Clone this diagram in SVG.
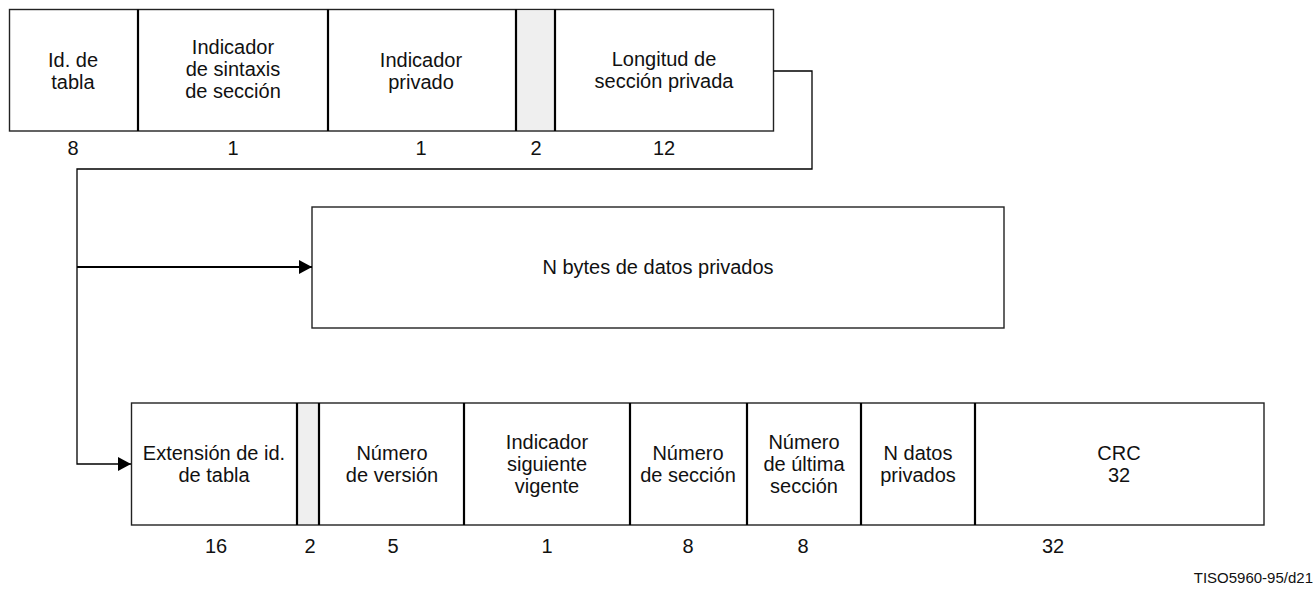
<svg xmlns="http://www.w3.org/2000/svg" width="1316" height="596" viewBox="0 0 1316 596">
<style>
.t{font-family:"Liberation Sans",Arial,sans-serif;font-size:20px;fill:#111;text-anchor:middle}
.n{font-family:"Liberation Sans",Arial,sans-serif;font-size:20px;fill:#111;text-anchor:middle}
.f{font-family:"Liberation Sans",Arial,sans-serif;font-size:15px;fill:#111;text-anchor:end}
.box{fill:#fff;stroke:#222;stroke-width:1.4}
.div{stroke:#000;stroke-width:2.2;fill:none}
.gray{fill:#efefef;stroke:none}
.c{fill:none;stroke:#000;stroke-width:1.3}
.cb{fill:none;stroke:#000;stroke-width:2.2}
</style>
<defs>
<marker id="ah" markerWidth="13" markerHeight="14" refX="13" refY="7" orient="auto" markerUnits="userSpaceOnUse">
<path d="M0,0 L13,7 L0,14 Z" fill="#000"/>
</marker>
</defs>
<rect width="1316" height="596" fill="#fff"/>

<g id="top-row">
<rect class="box" x="9.5" y="9.5" width="764" height="121.5"/>
<rect class="gray" x="516" y="10.5" width="39" height="119.5"/>
<line class="div" x1="138" y1="9.5" x2="138" y2="131"/>
<line class="div" x1="328" y1="9.5" x2="328" y2="131"/>
<line class="div" x1="516" y1="9.5" x2="516" y2="131"/>
<line class="div" x1="555" y1="9.5" x2="555" y2="131"/>
</g>
<g id="n-id-tabla">
<text class="t" x="73" y="67">Id. de</text>
<text class="t" x="73" y="89">tabla</text>
<text class="n" x="73" y="155">8</text>
</g>
<g id="n-ind-sintaxis">
<text class="t" x="233" y="54">Indicador</text>
<text class="t" x="233" y="76">de sintaxis</text>
<text class="t" x="233" y="98">de sección</text>
<text class="n" x="233" y="155">1</text>
</g>
<g id="n-ind-privado">
<text class="t" x="421" y="67">Indicador</text>
<text class="t" x="421" y="89">privado</text>
<text class="n" x="421" y="155">1</text>
</g>
<g id="n-reserved-top">
<text class="n" x="536" y="155">2</text>
</g>
<g id="n-longitud">
<text class="t" x="664" y="66">Longitud de</text>
<text class="t" x="664" y="88">sección privada</text>
<text class="n" x="664" y="155">12</text>
</g>

<g id="n-datos">
<rect class="box" x="312" y="207" width="692" height="121"/>
<text class="t" x="658" y="274">N bytes de datos privados</text>
</g>

<g id="bottom-row">
<rect class="box" x="131.5" y="403" width="1132.5" height="122"/>
<rect class="gray" x="297" y="404" width="22" height="120"/>
<line class="div" x1="297" y1="403" x2="297" y2="525"/>
<line class="div" x1="319" y1="403" x2="319" y2="525"/>
<line class="div" x1="464" y1="403" x2="464" y2="525"/>
<line class="div" x1="630" y1="403" x2="630" y2="525"/>
<line class="div" x1="747" y1="403" x2="747" y2="525"/>
<line class="div" x1="861" y1="403" x2="861" y2="525"/>
<line class="div" x1="975" y1="403" x2="975" y2="525"/>
</g>
<g id="n-extension">
<text class="t" x="214" y="460">Extensión de id.</text>
<text class="t" x="214" y="482">de tabla</text>
<text class="n" x="216" y="553">16</text>
</g>
<g id="n-reserved-bottom">
<text class="n" x="310" y="553">2</text>
</g>
<g id="n-version">
<text class="t" x="392" y="460">Número</text>
<text class="t" x="392" y="482">de versión</text>
<text class="n" x="393" y="553">5</text>
</g>
<g id="n-siguiente">
<text class="t" x="547" y="449">Indicador</text>
<text class="t" x="547" y="471">siguiente</text>
<text class="t" x="547" y="493">vigente</text>
<text class="n" x="547" y="553">1</text>
</g>
<g id="n-seccion">
<text class="t" x="688" y="460">Número</text>
<text class="t" x="688" y="482">de sección</text>
<text class="n" x="688" y="553">8</text>
</g>
<g id="n-ultima">
<text class="t" x="804" y="449">Número</text>
<text class="t" x="804" y="471">de última</text>
<text class="t" x="804" y="493">sección</text>
<text class="n" x="803" y="553">8</text>
</g>
<g id="n-ndatos">
<text class="t" x="918" y="460">N datos</text>
<text class="t" x="918" y="482">privados</text>
</g>
<g id="n-crc">
<text class="t" x="1119" y="460">CRC</text>
<text class="t" x="1119" y="482">32</text>
<text class="n" x="1053" y="553">32</text>
</g>

<g id="connectors">
<polyline class="c" points="773.5,71 812,71 812,169 77,169 77,464 131,464" marker-end="url(#ah)"/>
<line class="cb" x1="77" y1="267" x2="312" y2="267" marker-end="url(#ah)"/>
</g>

<text class="f" x="1313" y="583">TISO5960-95/d21</text>
</svg>
